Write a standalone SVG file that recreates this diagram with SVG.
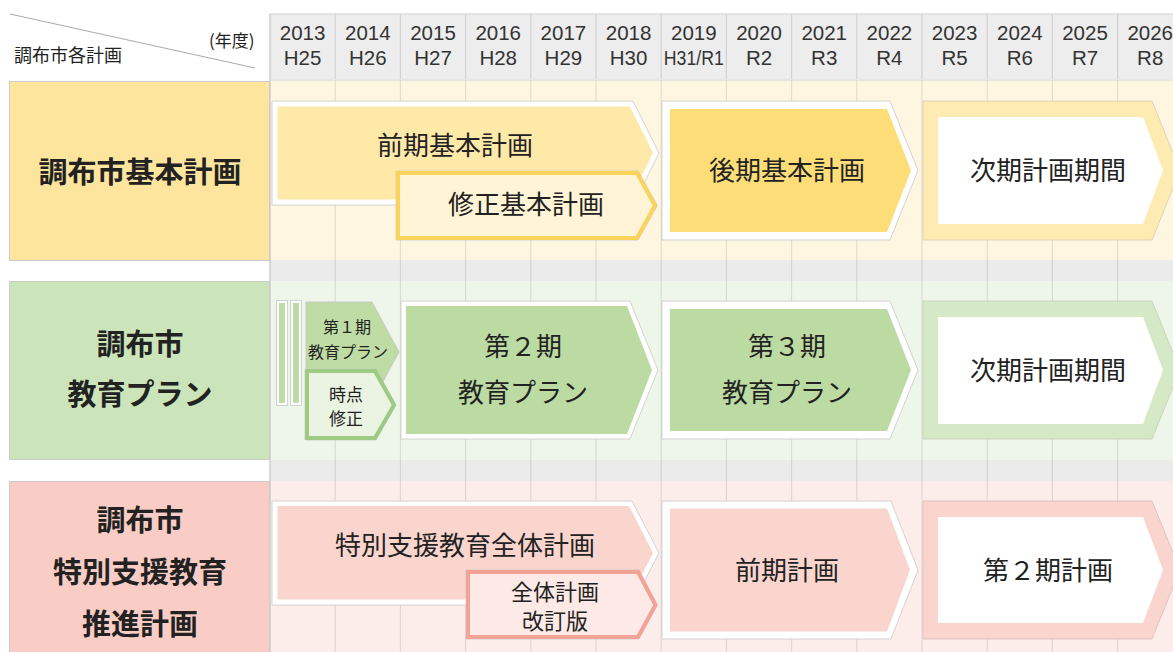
<svg xmlns="http://www.w3.org/2000/svg" width="1173" height="652" viewBox="0 0 1173 652">
<style>
.jp{font-family:"Noto Sans CJK JP","Noto Sans",sans-serif;fill:#222}
.lbl{font-size:26px;text-anchor:middle}
.left{font-size:29px;font-weight:700;text-anchor:middle}
.yr{font-family:"Liberation Sans",Arial,sans-serif;font-size:20.5px;fill:#333;text-anchor:middle}
.outer{fill:#fff;stroke:#c9c9c9;stroke-width:0.8}
.grid{stroke:#000;stroke-opacity:0.1;stroke-width:1.2}
.hdiv{stroke:#d2d2d2;stroke-width:1.2}
.thin{fill:none;stroke:#c9c9c9;stroke-width:0.8}
</style>
<rect width="1173" height="652" fill="#fff"/>
<g id="backgrounds">
<rect x="270" y="80" width="903" height="180" fill="#fef6e1"/>
<rect x="270" y="260" width="903" height="21" fill="#ebebeb"/>
<rect x="270" y="281" width="903" height="179" fill="#eef5e9"/>
<rect x="270" y="460" width="903" height="21" fill="#ebebeb"/>
<rect x="270" y="481" width="903" height="171" fill="#fdedea"/>
</g>
<g id="grid">
<line class="grid" x1="335.2" y1="80" x2="335.2" y2="652"/>
<line class="grid" x1="400.4" y1="80" x2="400.4" y2="652"/>
<line class="grid" x1="465.6" y1="80" x2="465.6" y2="652"/>
<line class="grid" x1="530.8" y1="80" x2="530.8" y2="652"/>
<line class="grid" x1="596" y1="80" x2="596" y2="652"/>
<line class="grid" x1="661.2" y1="80" x2="661.2" y2="652"/>
<line class="grid" x1="726.4" y1="80" x2="726.4" y2="652"/>
<line class="grid" x1="791.6" y1="80" x2="791.6" y2="652"/>
<line class="grid" x1="856.8" y1="80" x2="856.8" y2="652"/>
<line class="grid" x1="922" y1="80" x2="922" y2="652"/>
<line class="grid" x1="987.2" y1="80" x2="987.2" y2="652"/>
<line class="grid" x1="1052.4" y1="80" x2="1052.4" y2="652"/>
<line class="grid" x1="1117.6" y1="80" x2="1117.6" y2="652"/>
</g>
<g id="header">
<rect x="270" y="14" width="903" height="65" fill="#ededed"/>
<line x1="270" y1="14" x2="1173" y2="14" stroke="#d2d2d2" stroke-width="1.2"/>
<line x1="270" y1="80" x2="1173" y2="80" stroke="#cfcfcf" stroke-width="1.2"/>
<line class="hdiv" x1="335.2" y1="14" x2="335.2" y2="79"/>
<line class="hdiv" x1="400.4" y1="14" x2="400.4" y2="79"/>
<line class="hdiv" x1="465.6" y1="14" x2="465.6" y2="79"/>
<line class="hdiv" x1="530.8" y1="14" x2="530.8" y2="79"/>
<line class="hdiv" x1="596" y1="14" x2="596" y2="79"/>
<line class="hdiv" x1="661.2" y1="14" x2="661.2" y2="79"/>
<line class="hdiv" x1="726.4" y1="14" x2="726.4" y2="79"/>
<line class="hdiv" x1="791.6" y1="14" x2="791.6" y2="79"/>
<line class="hdiv" x1="856.8" y1="14" x2="856.8" y2="79"/>
<line class="hdiv" x1="922" y1="14" x2="922" y2="79"/>
<line class="hdiv" x1="987.2" y1="14" x2="987.2" y2="79"/>
<line class="hdiv" x1="1052.4" y1="14" x2="1052.4" y2="79"/>
<line class="hdiv" x1="1117.6" y1="14" x2="1117.6" y2="79"/>
<line x1="10" y1="14" x2="255" y2="68" stroke="#aaa" stroke-width="1"/>
<text class="jp" x="14" y="62" font-size="18" fill="#333">調布市各計画</text>
<text class="jp" x="209" y="47" font-size="17" fill="#333">(年度)</text>
<text class="yr" x="302.6" y="40">2013<tspan x="302.6" dy="25">H25</tspan></text>
<text class="yr" x="367.8" y="40">2014<tspan x="367.8" dy="25">H26</tspan></text>
<text class="yr" x="433" y="40">2015<tspan x="433" dy="25">H27</tspan></text>
<text class="yr" x="498.2" y="40">2016<tspan x="498.2" dy="25">H28</tspan></text>
<text class="yr" x="563.4" y="40">2017<tspan x="563.4" dy="25">H29</tspan></text>
<text class="yr" x="628.6" y="40">2018<tspan x="628.6" dy="25">H30</tspan></text>
<text class="yr" x="693.8" y="40">2019<tspan x="693.8" dy="25" textLength="60" lengthAdjust="spacingAndGlyphs">H31/R1</tspan></text>
<text class="yr" x="759" y="40">2020<tspan x="759" dy="25">R2</tspan></text>
<text class="yr" x="824.2" y="40">2021<tspan x="824.2" dy="25">R3</tspan></text>
<text class="yr" x="889.4" y="40">2022<tspan x="889.4" dy="25">R4</tspan></text>
<text class="yr" x="954.6" y="40">2023<tspan x="954.6" dy="25">R5</tspan></text>
<text class="yr" x="1019.8" y="40">2024<tspan x="1019.8" dy="25">R6</tspan></text>
<text class="yr" x="1085" y="40">2025<tspan x="1085" dy="25">R7</tspan></text>
<text class="yr" x="1150.2" y="40">2026<tspan x="1150.2" dy="25">R8</tspan></text>
</g>
<line x1="270" y1="14" x2="270" y2="652" stroke="#c4c4c4" stroke-width="1.2"/>
<g id="label-kihon">
<rect x="9.5" y="81.5" width="260" height="179" fill="#fee59e" stroke="#cbcbcb" stroke-width="1"/>
<text class="jp left" x="140" y="183">調布市基本計画</text>
</g>
<g id="label-kyoiku">
<rect x="9.5" y="281.5" width="260" height="178" fill="#cce4b9" stroke="#cbcbcb" stroke-width="1"/>
<text class="jp left" x="140" y="355">調布市</text>
<text class="jp left" x="140" y="405">教育プラン</text>
</g>
<g id="label-tokubetsu">
<rect x="9.5" y="481.5" width="260" height="175" fill="#f9cdc5" stroke="#cbcbcb" stroke-width="1"/>
<text class="jp left" x="140" y="531">調布市</text>
<text class="jp left" x="140" y="583">特別支援教育</text>
<text class="jp left" x="140" y="635">推進計画</text>
</g>
<g id="zenki-kihon">
<polygon class="outer" points="272,101 633,101 659,153 633,205 272,205"/>
<polygon points="277.5,106.5 630,106.5 653,153 630,199.5 277.5,199.5" fill="#ffe9a9"/>
<text class="jp lbl" x="455" y="155">前期基本計画</text>
</g>
<g id="shusei-kihon">
<polygon class="thin" points="396,171 638,171 657.5,205.5 638,240 396,240"/>
<polygon points="398,173 637,173 655,205.5 637,238 398,238" fill="#fff5d6" stroke="#f9d35a" stroke-width="4"/>
<text class="jp lbl" x="526" y="214">修正基本計画</text>
</g>
<g id="kouki-kihon">
<polygon class="outer" points="662,101 890,101 918,170.5 890,240 662,240"/>
<polygon points="670,109 887,109 911,170.5 887,232 670,232" fill="#fcdd78"/>
<text class="jp lbl" x="787" y="180">後期基本計画</text>
</g>
<g id="jiki-kihon">
<polygon points="923,101 1152,101 1180,170.5 1152,240 923,240" fill="#feebb1" stroke="#d6ceb6" stroke-width="0.8"/>
<polygon points="938,117 1143,117 1163,170.5 1143,224 938,224" fill="#fff"/>
<text class="jp lbl" x="1048" y="180">次期計画期間</text>
</g>
<g id="kyoiku-bars">
<rect x="276.5" y="300.5" width="11" height="105" fill="#fff" stroke="#c8c8c8" stroke-width="0.8"/>
<rect x="279" y="303" width="6" height="100" fill="#bedca4"/>
<rect x="290.5" y="300.5" width="11" height="105" fill="#fff" stroke="#c8c8c8" stroke-width="0.8"/>
<rect x="293" y="303" width="6" height="100" fill="#bedca4"/>
</g>
<g id="kyoiku-1">
<polygon points="306,302 372,302 399,352 372,402 306,402" fill="#bedca4" stroke="#c8c8c8" stroke-width="1"/>
<text class="jp" x="347" y="333" font-size="16" text-anchor="middle">第１期</text>
<text class="jp" x="348" y="358" font-size="16" text-anchor="middle">教育プラン</text>
</g>
<g id="jiten-shusei">
<polygon class="thin" points="305,369 376,369 396,405 376,440 305,440"/>
<polygon points="307,371 375,371 394,405 375,438 307,438" fill="#ebf4e3" stroke="#9dcb83" stroke-width="4"/>
<text class="jp" x="346" y="400.5" font-size="17" text-anchor="middle">時点</text>
<text class="jp" x="346" y="424.5" font-size="17" text-anchor="middle">修正</text>
</g>
<g id="kyoiku-2">
<polygon class="outer" points="401,301 630,301 658,370 630,439 401,439"/>
<polygon points="406,306 627,306 652,370 627,434 406,434" fill="#bcdba2"/>
<text class="jp lbl" x="523" y="356">第２期</text>
<text class="jp lbl" x="523" y="402">教育プラン</text>
</g>
<g id="kyoiku-3">
<polygon class="outer" points="662,301 890,301 918,370 890,439 662,439"/>
<polygon points="670,309 887,309 911,370 887,431 670,431" fill="#bcdba2"/>
<text class="jp lbl" x="787" y="356">第３期</text>
<text class="jp lbl" x="787" y="402">教育プラン</text>
</g>
<g id="jiki-kyoiku">
<polygon points="923,301 1152,301 1180,370 1152,439 923,439" fill="#d6e9c7" stroke="#c3cfb9" stroke-width="0.8"/>
<polygon points="938,317 1143,317 1163,370 1143,424 938,424" fill="#fff"/>
<text class="jp lbl" x="1048" y="380">次期計画期間</text>
</g>
<g id="tokubetsu-zentai">
<polygon class="outer" points="272,501 632,501 659,553 632,605 272,605"/>
<polygon points="277.5,506 629,506 653,553 629,599.5 277.5,599.5" fill="#fad5ce"/>
<text class="jp lbl" x="465" y="555">特別支援教育全体計画</text>
</g>
<g id="zentai-kaitei">
<polygon class="thin" points="466,570 639,570 657.5,605 639,639 466,639"/>
<polygon points="468,572 638,572 655.5,605 638,637 468,637" fill="#fde9e5" stroke="#f2a297" stroke-width="4"/>
<text class="jp" x="555" y="600" font-size="22" text-anchor="middle">全体計画</text>
<text class="jp" x="555" y="629" font-size="22" text-anchor="middle">改訂版</text>
</g>
<g id="zenki-keikaku">
<polygon class="outer" points="662,501 891,501 918,570 891,639 662,639"/>
<polygon points="670,508.5 887,508.5 910,570 887,631.5 670,631.5" fill="#fad5ce"/>
<text class="jp lbl" x="787" y="580">前期計画</text>
</g>
<g id="dai2-keikaku">
<polygon points="923,501 1152,501 1180,570 1152,639 923,639" fill="#fad5ce" stroke="#d8bdb8" stroke-width="0.8"/>
<polygon points="938,517 1143,517 1163,570 1143,623 938,623" fill="#fff"/>
<text class="jp lbl" x="1048" y="580">第２期計画</text>
</g>
<g id="connectors"/>
</svg>
